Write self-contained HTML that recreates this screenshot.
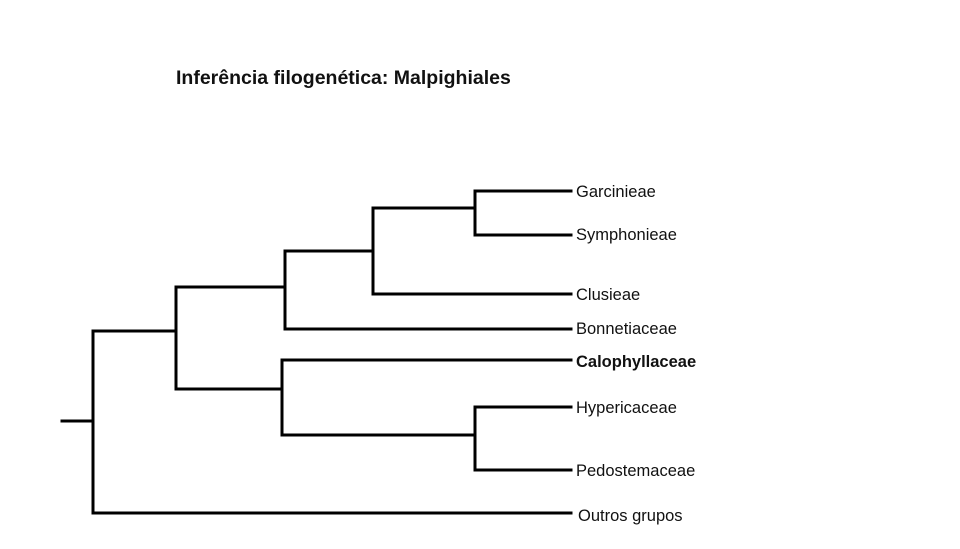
<!DOCTYPE html>
<html><head><meta charset="utf-8"><style>
html,body{margin:0;padding:0;background:#fff;}
</style></head><body>
<svg width="960" height="549" viewBox="0 0 960 549" xmlns="http://www.w3.org/2000/svg" style="display:block">
<text x="176" y="84" font-family="Liberation Sans, sans-serif" font-size="19.5" font-weight="bold" fill="#111">Inferência filogenética: Malpighiales</text>
<g stroke="#000" stroke-width="3" fill="none" stroke-linecap="square">
<line x1="62" y1="421" x2="93" y2="421"/>
<line x1="93" y1="331" x2="93" y2="513"/>
<line x1="93" y1="513" x2="571" y2="513"/>
<line x1="93" y1="331" x2="176" y2="331"/>
<line x1="176" y1="287" x2="176" y2="389"/>
<line x1="176" y1="287" x2="285" y2="287"/>
<line x1="285" y1="251" x2="285" y2="329"/>
<line x1="285" y1="329" x2="571" y2="329"/>
<line x1="285" y1="251" x2="373" y2="251"/>
<line x1="373" y1="208" x2="373" y2="294"/>
<line x1="373" y1="294" x2="571" y2="294"/>
<line x1="373" y1="208" x2="475" y2="208"/>
<line x1="475" y1="191" x2="475" y2="235"/>
<line x1="475" y1="191" x2="571" y2="191"/>
<line x1="475" y1="235" x2="571" y2="235"/>
<line x1="176" y1="389" x2="282" y2="389"/>
<line x1="282" y1="360" x2="282" y2="435"/>
<line x1="282" y1="360" x2="571" y2="360"/>
<line x1="282" y1="435" x2="475" y2="435"/>
<line x1="475" y1="407" x2="475" y2="470"/>
<line x1="475" y1="407" x2="571" y2="407"/>
<line x1="475" y1="470" x2="571" y2="470"/>
</g>
<g font-family="Liberation Sans, sans-serif" font-size="16.5" fill="#111">
<text x="576" y="197">Garcinieae</text>
<text x="576" y="240">Symphonieae</text>
<text x="576" y="300">Clusieae</text>
<text x="576" y="334">Bonnetiaceae</text>
<text x="576" y="367" font-weight="bold">Calophyllaceae</text>
<text x="576" y="413">Hypericaceae</text>
<text x="576" y="476">Pedostemaceae</text>
<text x="578" y="521">Outros grupos</text>
</g>
</svg>
</body></html>
